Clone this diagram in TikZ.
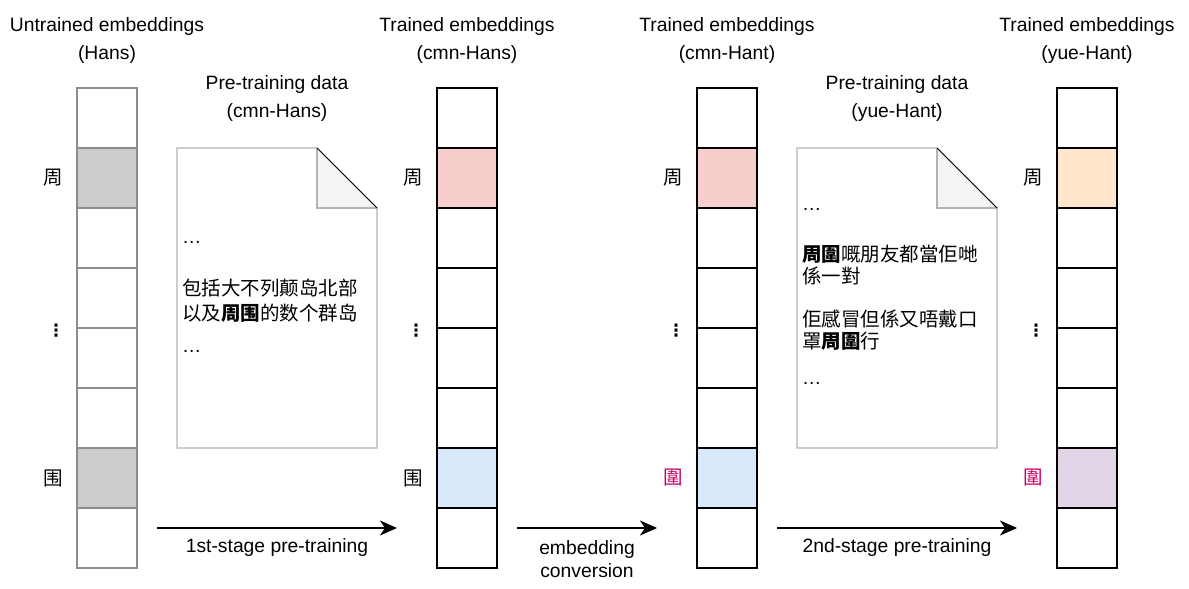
\documentclass[tikz,border=0pt]{standalone}
\usepackage{fontspec}
\setmainfont{Liberation Sans}
\newfontfamily\cjksc{Noto Sans CJK SC}
\newfontfamily\cjktc{Noto Sans CJK TC}
\newfontfamily\symfont{DejaVu Sans}
\usepackage{tikz}
\usetikzlibrary{positioning,arrows.meta}

\definecolor{cellgray}{HTML}{CCCCCC}
\definecolor{cellpink}{HTML}{F8CECC}
\definecolor{cellblue}{HTML}{DAE8FC}
\definecolor{cellorange}{HTML}{FFE6CC}
\definecolor{cellpurple}{HTML}{E1D5E7}
\definecolor{edgegray}{HTML}{8C8C8C}
\definecolor{docedge}{HTML}{B3B3B3}
\definecolor{foldfill}{HTML}{F5F5F5}
\definecolor{glyphpink}{HTML}{CC0066}

\begin{document}
\begin{tikzpicture}[
  x=1pt, y=-1pt,
  every node/.style={inner sep=0pt, outer sep=0pt,
                     font=\fontsize{19.3}{24}\selectfont},
  cell/.style={draw, line width=1.2pt, minimum width=60pt, minimum height=60pt},
  title/.style={align=center, font=\fontsize{19.3}{28}\selectfont},
  rowlabel/.style={font=\fontsize{19.5}{24}\selectfont\cjksc},
  doctext/.style={anchor=base west},
  doc/.style={draw=docedge, line width=1.2pt, fill=white},
  flow/.style={draw, line width=1.5pt, -{Stealth[length=17pt, width=15pt, inset=5pt]}}
]
\useasboundingbox (0,0) rectangle (1189,589);

\foreach \name/\cx/\fillA/\fillB/\edge in {
    untr/107/cellgray/cellgray/edgegray,
    cmns/467/cellpink/cellblue/black,
    cmnt/727/cellpink/cellblue/black,
    yue/1087/cellorange/cellpurple/black} {
  \foreach \i in {1,...,8} {
    \ifnum\i=2 \def\cellfill{\fillA}\else
      \ifnum\i=7 \def\cellfill{\fillB}\else\def\cellfill{white}\fi\fi
    \node[cell, draw=\edge, fill=\cellfill] (\name-\i) at (\cx, 58+60*\i) {};
  }
  \node[rowlabel, left=14pt of \name-2] (\name-zhou) {周};
  \node[font=\fontsize{17}{20}\selectfont\bfseries\symfont] (\name-dots) at (\cx-51, 331) {⋮};
}
\node[rowlabel, left=14pt of untr-7] (untr-wei) {围};
\node[rowlabel, left=14pt of cmns-7] (cmns-wei) {围};
\node[rowlabel, left=14pt of cmnt-7, text=glyphpink, font=\fontsize{19.5}{24}\selectfont\cjktc] (cmnt-wei) {圍};
\node[rowlabel, left=14pt of yue-7, text=glyphpink, font=\fontsize{19.5}{24}\selectfont\cjktc] (yue-wei) {圍};

\node[title] (untr-title) at (107,41) {Untrained embeddings\\(Hans)};
\node[title] (cmns-title) at (467,41) {Trained embeddings\\(cmn-Hans)};
\node[title] (cmnt-title) at (727,41) {Trained embeddings\\(cmn-Hant)};
\node[title] (yue-title) at (1087,41) {Trained embeddings\\(yue-Hant)};

\node[title] (data1-title) at (277,99) {Pre-training data\\(cmn-Hans)};
\node[title] (data2-title) at (897,99) {Pre-training data\\(yue-Hant)};

\draw[doc] (177,148) -- (317,148) -- (377,208) -- (377,448) -- (177,448) -- cycle;
\fill[foldfill] (317,148) -- (377,208) -- (317,208) -- cycle;
\draw[draw=docedge, line width=1.2pt] (317,148) -- (317,208) -- (377,208);
\draw[line width=0.8pt] (317,148) -- (377,208);

\draw[doc] (797,148) -- (937,148) -- (997,208) -- (997,448) -- (797,448) -- cycle;
\fill[foldfill] (937,148) -- (997,208) -- (937,208) -- cycle;
\draw[draw=docedge, line width=1.2pt] (937,148) -- (937,208) -- (997,208);
\draw[line width=0.8pt] (937,148) -- (997,208);

\node[doctext] (data1-l1) at (182,243) {…};
\node[doctext, font=\fontsize{19.5}{24}\selectfont\cjksc] (data1-l2) at (182,295) {包括大不列颠岛北部};
\node[doctext, font=\fontsize{19.5}{24}\selectfont\cjksc] (data1-l3) at (182,320) {以及\textbf{周围}的数个群岛};
\node[doctext] (data1-l4) at (182,352) {…};

\node[doctext] (data2-l1) at (802,210) {…};
\node[doctext, font=\fontsize{19.5}{24}\selectfont\cjktc] (data2-l2) at (802,261) {\textbf{周圍}嘅朋友都當佢哋};
\node[doctext, font=\fontsize{19.5}{24}\selectfont\cjktc] (data2-l3) at (802,283) {係一對};
\node[doctext, font=\fontsize{19.5}{24}\selectfont\cjktc] (data2-l4) at (802,326) {佢感冒但係又唔戴口};
\node[doctext, font=\fontsize{19.5}{24}\selectfont\cjktc] (data2-l5) at (802,348) {罩\textbf{周圍}行};
\node[doctext] (data2-l6) at (802,384) {…};

\coordinate (stage1-from) at (157,528);
\coordinate (stage1-to) at (397,528);
\coordinate (conv-from) at (517,528);
\coordinate (conv-to) at (657,528);
\coordinate (stage2-from) at (777,528);
\coordinate (stage2-to) at (1017,528);
\draw[flow] (stage1-from) -- (stage1-to);
\draw[flow] (conv-from) -- (conv-to);
\draw[flow] (stage2-from) -- (stage2-to);

\node (stage1-label) at (277,548) {1st-stage pre-training};
\node[align=center, font=\fontsize{19.3}{23}\selectfont] (conv-label) at (587,559) {embedding\\conversion};
\node (stage2-label) at (897,548) {2nd-stage pre-training};
\end{tikzpicture}
\end{document}
